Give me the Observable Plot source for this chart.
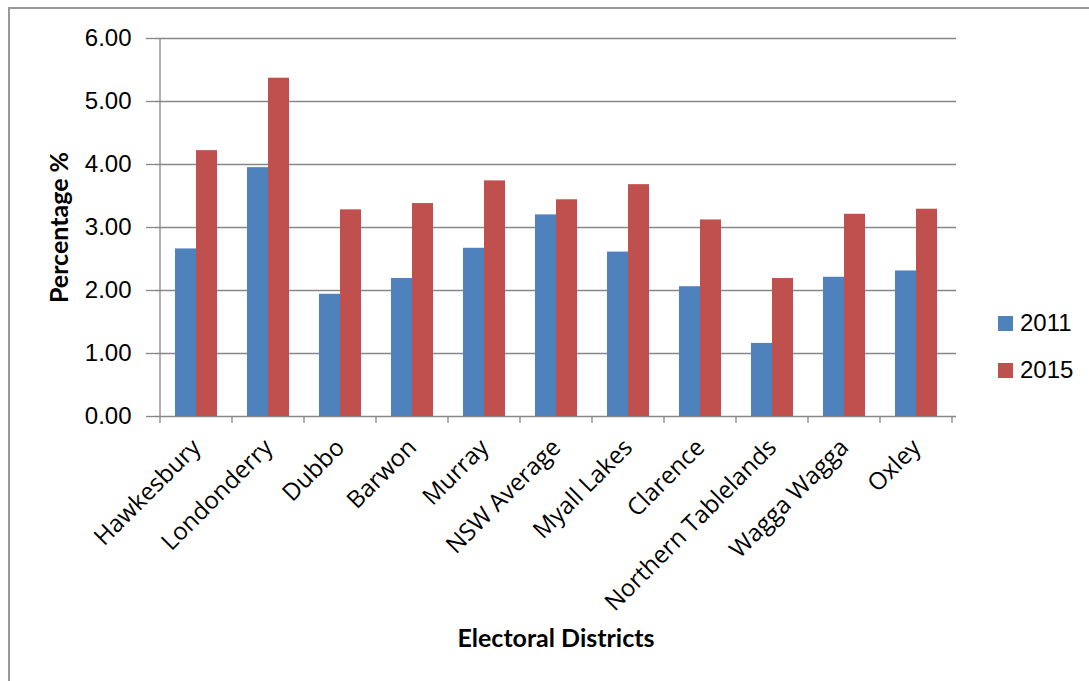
<!DOCTYPE html>
<html>
<head>
<meta charset="utf-8">
<script src="https://cdn.jsdelivr.net/npm/d3@7"></script>
<script src="https://cdn.jsdelivr.net/npm/@observablehq/plot@0.6"></script>
<style>
  html, body { margin: 0; padding: 0; background: #fff; }
  #chart { position: relative; width: 1089px; height: 681px; overflow: hidden; }
  #chart svg { position: absolute; left: 0; top: 0; }
  .border { position: absolute; left: 8px; top: 7px; right: -10px; bottom: -10px;
            border-left: 2px solid #9a9a9a; border-top: 2px solid #9a9a9a; pointer-events: none; }
  .legend-item { position: absolute; left: 998px; display: flex; align-items: center;
                 font: 24px "Liberation Sans", Arial, sans-serif; color: #000; line-height: 1; }
  .legend-item .sw { width: 15px; height: 15px; margin-right: 7px; }
</style>
</head>
<body>
<div id="chart"></div>
<script>
// Electoral districts and their percentages for each election year
const districts = ["Hawkesbury", "Londonderry", "Dubbo", "Barwon", "Murray", "NSW Average",
                   "Myall Lakes", "Clarence", "Northern Tablelands", "Wagga Wagga", "Oxley"];
const values2011 = [2.66, 3.95, 1.94, 2.19, 2.67, 3.20, 2.61, 2.06, 1.16, 2.21, 2.31];
const values2015 = [4.22, 5.37, 3.28, 3.38, 3.74, 3.44, 3.68, 3.12, 2.19, 3.21, 3.29];
const years = ["2011", "2015"];
const yearColors = ["#4F81BD", "#C0504D"];
const yTicks = [0, 1, 2, 3, 4, 5, 6];

const rows = districts.flatMap((district, i) => [
  {district, year: years[0], value: values2011[i]},
  {district, year: years[1], value: values2015[i]}
]);

const W = 1089, H = 681;
const mL = 155, mR = 133, mT = 38, mB = 265;
const padInner = 0.423;
const halfBar = (W - mL - mR) / districts.length * (1 - padInner) / 2;
const gridColor = "#878787";
const titleFont = "Lato, 'Open Sans', sans-serif";

// Vertical axis line and the tick marks between category groups
function categoryFrame(index, scales) {
  const x = scales.x, y = scales.y;
  const bw = typeof x.bandwidth === "function" ? x.bandwidth() : (x.bandwidth ?? halfBar * 2);
  const step = x(districts[1]) - x(districts[0]);
  const centers = districts.map(d => x(d) + bw / 2);
  const bounds = centers.map(c => c - step / 2).concat([centers[centers.length - 1] + step / 2]);
  const g = d3.create("svg:g").attr("stroke", gridColor).attr("stroke-width", 1.3);
  g.append("line").attr("x1", bounds[0]).attr("x2", bounds[0]).attr("y1", y(6)).attr("y2", y(0));
  for (const b of bounds) {
    g.append("line").attr("x1", b).attr("x2", b).attr("y1", y(0)).attr("y2", y(0) + 7);
  }
  return g.node();
}

const chart = Plot.plot({
  width: W, height: H,
  marginLeft: mL, marginRight: mR, marginTop: mT, marginBottom: mB,
  style: {fontFamily: "'Open Sans', sans-serif", fontSize: "24px", color: "#000", background: "transparent"},
  x: {domain: districts, paddingInner: padInner, paddingOuter: padInner / 2, axis: null},
  y: {domain: [0, 6], axis: null},
  color: {domain: years, range: yearColors},
  marks: [
    Plot.ruleY(yTicks, {stroke: gridColor, strokeWidth: 1.3}),
    Plot.barY(rows.filter(d => d.year === years[0]), {x: "district", y: "value", fill: "year", insetRight: halfBar}),
    Plot.barY(rows.filter(d => d.year === years[1]), {x: "district", y: "value", fill: "year", insetLeft: halfBar}),
    Plot.axisY(yTicks, {tickSize: 9, tickPadding: 15, tickFormat: d3.format(".2f"), stroke: gridColor, label: null,
                        strokeWidth: 1.3, fill: "#000", fontFamily: "'Liberation Sans', Arial, sans-serif", fontSize: 24}),
    Plot.axisX({tickSize: 0, tickPadding: 27, tickRotate: -45, fill: "#000", label: null}),
    categoryFrame,
    Plot.text(["Percentage %"], {frameAnchor: "left", dx: -96, rotate: -90, fontWeight: "bold",
                                 textAnchor: "middle", lineAnchor: "middle",
                                 fontSize: 25, fontFamily: titleFont, fill: "#000"}),
    Plot.text(["Electoral Districts"], {frameAnchor: "bottom", dy: 222, fontWeight: "bold",
                                        textAnchor: "middle", lineAnchor: "middle",
                                        fontSize: 25, fontFamily: titleFont, fill: "#000"})
  ]
});

const root = document.getElementById("chart");
root.appendChild(chart);

const border = document.createElement("div");
border.className = "border";
root.appendChild(border);

// Legend to the right of the plot
const legendTops = [316, 363];
years.forEach((yr, i) => {
  const item = document.createElement("div");
  item.className = "legend-item";
  item.style.top = (legendTops[i] - 5) + "px";
  item.innerHTML = `<span class="sw" style="background:${yearColors[i]}"></span><span>${yr}</span>`;
  root.appendChild(item);
});
</script>
</body>
</html>
